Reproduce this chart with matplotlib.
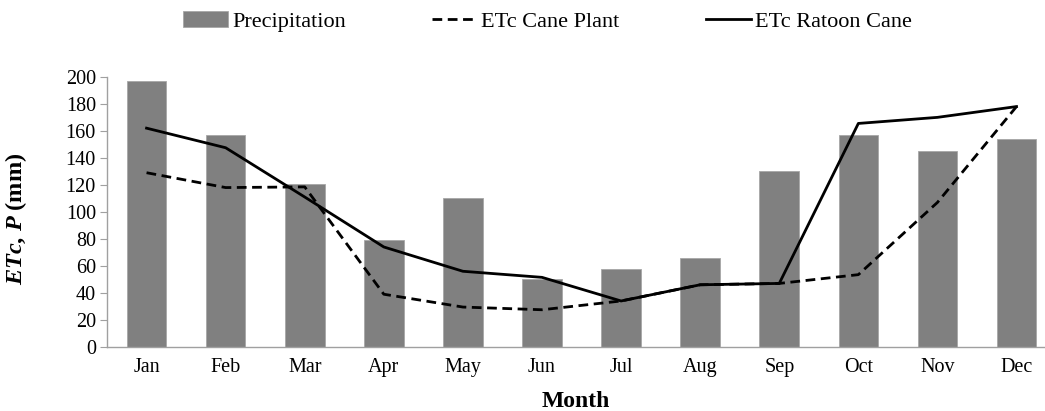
import numpy as np
import matplotlib
matplotlib.use("Agg")
import matplotlib.pyplot as plt

plt.rcParams['font.family'] = ['Liberation Serif', 'DejaVu Serif']
plt.rcParams['mathtext.fontset'] = 'custom'
plt.rcParams['mathtext.bfit'] = 'Liberation Serif:italic:bold'
plt.rcParams['mathtext.rm'] = 'Liberation Serif'

# data
months = ['Jan', 'Feb', 'Mar', 'Apr', 'May', 'Jun', 'Jul', 'Aug', 'Sep', 'Oct', 'Nov', 'Dec']
precipitation = [197, 157, 121, 79, 110, 50, 58, 66, 130, 157, 145, 154]
etc_cane_plant = [129, 118, 118.5, 39, 29.5, 27.5, 34, 46, 47, 53.5, 107, 178]
etc_ratoon_cane = [162, 147.5, 111, 74, 56, 51.5, 34, 46, 47, 165.5, 170, 178]

fig = plt.figure(figsize=(10.45, 4.11), dpi=100)
ax = fig.add_axes([0.1024, 0.156, 0.8976, 0.657])

x = np.arange(len(months))
bars = ax.bar(x, precipitation, width=0.5, color='#808080', edgecolor='#a6a6a6',
              linewidth=0.6, label='Precipitation', zorder=2)
l1, = ax.plot(x, etc_cane_plant, color='black', lw=2.0, linestyle=(0, (3.5, 2)),
              label='ETc Cane Plant', zorder=3)
l2, = ax.plot(x, etc_ratoon_cane, color='black', lw=2.0, label='ETc Ratoon Cane', zorder=4)

ax.set_xlim(-0.5, 11.36)
ax.set_ylim(0, 200)
ax.set_yticks(np.arange(0, 201, 20))
ax.set_xticks(x)
ax.set_xticklabels(months)
ax.tick_params(axis='both', labelsize=14.5, colors='black')
ax.tick_params(axis='x', length=0, pad=8)
ax.tick_params(axis='y', length=5, color='#a0a0a0', pad=3)

for s in ['top', 'right']:
    ax.spines[s].set_visible(False)
for s in ['left', 'bottom']:
    ax.spines[s].set_color('#a0a0a0')
    ax.spines[s].set_linewidth(1.0)

ax.set_ylabel(r'$\mathbfit{ETc}$, $\mathbfit{P}$ (mm)', fontsize=17.5, fontweight='bold', labelpad=6)
ax.yaxis.set_label_coords(-0.083, 0.475)
ax.set_xlabel('Month', fontsize=17, fontweight='bold', labelpad=10)

fig.legend(handles=[bars, l1, l2], loc='center', bbox_to_anchor=(0.524, 0.948), ncol=3,
           frameon=False, fontsize=16, columnspacing=3.9, handlelength=2.0,
           handletextpad=0.2, handleheight=0.7)

fig.savefig('out.png', dpi=100)
